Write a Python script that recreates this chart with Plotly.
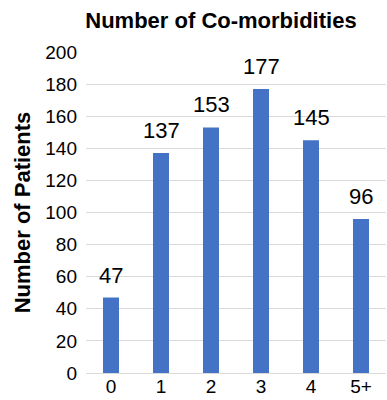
import plotly.graph_objects as go

categories = ["0", "1", "2", "3", "4", "5+"]
patients = [47, 137, 153, 177, 145, 96]
y_ticks = list(range(0, 201, 20))

FONT = "Liberation Sans, Arial, sans-serif"

fig = go.Figure(
    go.Bar(
        x=categories,
        y=patients,
        marker=dict(color="#4472C4", line=dict(width=0)),
        width=0.32,
        cliponaxis=False,
    )
)

# value labels above each bar
for cat, val in zip(categories, patients):
    fig.add_annotation(
        x=cat,
        y=val,
        text=str(val),
        showarrow=False,
        xanchor="center",
        yanchor="bottom",
        yshift=8,
        font=dict(family=FONT, size=22, color="#000000"),
    )

fig.update_layout(
    width=387,
    height=400,
    margin=dict(l=86, r=1, t=52, b=27),
    paper_bgcolor="white",
    plot_bgcolor="white",
    showlegend=False,
    title=dict(
        text="<b>Number of Co-morbidities</b>",
        font=dict(family=FONT, size=22, color="#000000"),
        x=0.571,
        xanchor="center",
        y=0.95,
        yanchor="middle",
    ),
    font=dict(family=FONT, size=19, color="#000000"),
)

fig.update_xaxes(
    showgrid=False,
    showline=False,
    ticks="",
    tickfont=dict(size=19),
)

fig.update_yaxes(
    range=[0, 200],
    tickvals=y_ticks,
    showgrid=True,
    gridcolor="#d9d9d9",
    gridwidth=1,
    zeroline=True,
    zerolinecolor="#d9d9d9",
    zerolinewidth=1,
    ticks="",
    tickfont=dict(size=19),
    ticklabelstandoff=8,
    title=dict(
        text="<b>Number of Patients</b>",
        font=dict(size=22),
        standoff=8,
    ),
)

fig.write_html("out.html")
